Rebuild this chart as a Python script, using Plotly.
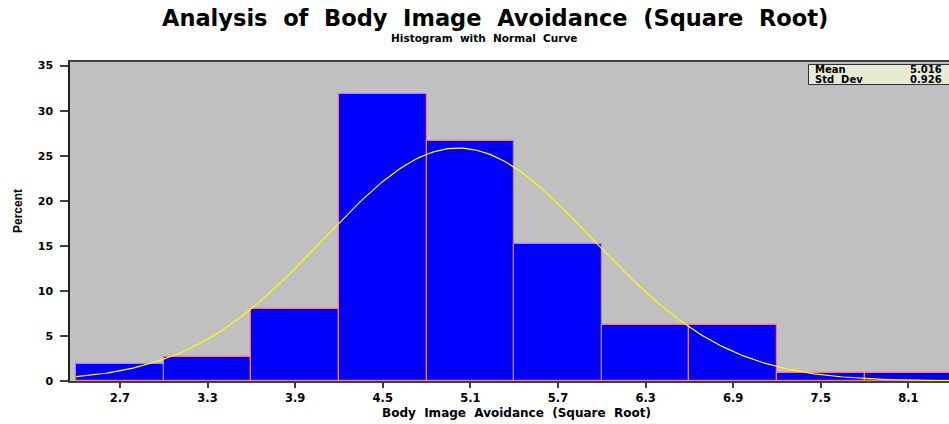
import numpy as np
import plotly.graph_objects as go

# ---- data ----
BIN_CENTERS = [2.7, 3.3, 3.9, 4.5, 5.1, 5.7, 6.3, 6.9, 7.5, 8.1]
PERCENTS = [1.9, 2.7, 8.0, 31.9, 26.6, 15.2, 6.25, 6.25, 0.92, 0.92]
TICK_LABELS = ["2.7", "3.3", "3.9", "4.5", "5.1", "5.7", "6.3", "6.9", "7.5", "8.1"]
Y_TICKS = [0, 5, 10, 15, 20, 25, 30, 35]
BIN_WIDTH = 0.6
MEAN = 5.016
STD_DEV = 0.926

# fitted normal curve (percent scale) from the stated mean / std dev
cx = np.linspace(BIN_CENTERS[0] - BIN_WIDTH / 2, BIN_CENTERS[-1] + BIN_WIDTH / 2, 300)
cy = 100 * BIN_WIDTH / (STD_DEV * np.sqrt(2 * np.pi)) * np.exp(-0.5 * ((cx - MEAN) / STD_DEV) ** 2)

W, H = 949, 424
L, R, T, B = 70, 949, 62, 381  # plot area in pixels


def px(x):
    return (x - L) / (R - L)


def py(y):
    return (B - y) / (B - T)


FONT = "DejaVu Sans"
fig = go.Figure()
fig.add_trace(go.Bar(
    x=BIN_CENTERS, y=PERCENTS, width=BIN_WIDTH,
    marker=dict(color="#0000ff", line=dict(color="#e07d9a", width=1.2)),
    hoverinfo="x+y", showlegend=False,
))
fig.add_trace(go.Scatter(
    x=cx, y=cy, mode="lines", line=dict(color="#ffff00", width=1.2),
    hoverinfo="skip", showlegend=False,
))

fig.update_layout(
    width=W, height=H,
    margin=dict(l=L, r=W - R, t=T, b=H - B),
    paper_bgcolor="white", plot_bgcolor="#c0c0c0",
    bargap=0,
    font=dict(family=FONT, color="black", size=12, weight=700),
    xaxis=dict(
        range=[2.358, 8.378], tickvals=BIN_CENTERS, ticktext=TICK_LABELS,
        ticks="outside", ticklen=5, tickwidth=1.5, tickcolor="#404040",
        showline=True, linecolor="#404040", linewidth=2, mirror=True,
        showgrid=False, zeroline=False,
        tickfont=dict(family=FONT, size=11.5, weight=700),
    ),
    yaxis=dict(
        range=[0, 35.4], tickvals=Y_TICKS,
        ticks="outside", ticklen=8, tickwidth=1.5, tickcolor="#404040",
        showline=True, linecolor="#202020", linewidth=1.5,
        showgrid=False, zeroline=False, ticklabelstandoff=5,
        tickfont=dict(family=FONT, size=11, weight=700),
    ),
    shapes=[
        dict(type="rect", xref="paper", yref="paper",
             x0=px(808.5), x1=px(960), y0=py(64.5), y1=py(84.5),
             fillcolor="#e8ead6", line=dict(color="#303030", width=1)),
    ],
    annotations=[
        dict(text="Analysis\u00a0 of\u00a0 Body\u00a0 Image\u00a0 Avoidance\u00a0 (Square\u00a0 Root)",
             xref="paper", yref="paper", x=px(495), y=py(18), xanchor="center", yanchor="middle",
             showarrow=False, font=dict(family=FONT, size=22.5, weight=700)),
        dict(text="Histogram\u00a0 with\u00a0 Normal\u00a0 Curve",
             xref="paper", yref="paper", x=px(484), y=py(38), xanchor="center", yanchor="middle",
             showarrow=False, font=dict(family=FONT, size=10.5, weight=700)),
        dict(text="Body\u00a0 Image\u00a0 Avoidance\u00a0 (Square\u00a0 Root)",
             xref="paper", yref="paper", x=px(516), y=py(413), xanchor="center", yanchor="middle",
             showarrow=False, font=dict(family=FONT, size=12, weight=700)),
        dict(text="Percent", textangle=-90,
             xref="paper", yref="paper", x=px(18), y=py(211), xanchor="center", yanchor="middle",
             showarrow=False, font=dict(family="Liberation Sans Narrow, Liberation Sans", size=12, weight=700)),
        dict(text="Mean", xref="paper", yref="paper", x=px(813), y=py(69.5), xanchor="left", yanchor="middle",
             showarrow=False, font=dict(family=FONT, size=10, weight=700)),
        dict(text="Std\u00a0 Dev", xref="paper", yref="paper", x=px(813), y=py(79.5), xanchor="left", yanchor="middle",
             showarrow=False, font=dict(family=FONT, size=10, weight=700)),
        dict(text=f"{MEAN:.3f}", xref="paper", yref="paper", x=px(944), y=py(69.5), xanchor="right", yanchor="middle",
             showarrow=False, font=dict(family=FONT, size=10, weight=700)),
        dict(text=f"{STD_DEV:.3f}", xref="paper", yref="paper", x=px(944), y=py(79.5), xanchor="right", yanchor="middle",
             showarrow=False, font=dict(family=FONT, size=10, weight=700)),
    ],
)

fig.write_html(
    "out.html",
    config={"displayModeBar": False},
    post_script="document.body.style.margin='0px';document.body.style.overflow='hidden';",
)
